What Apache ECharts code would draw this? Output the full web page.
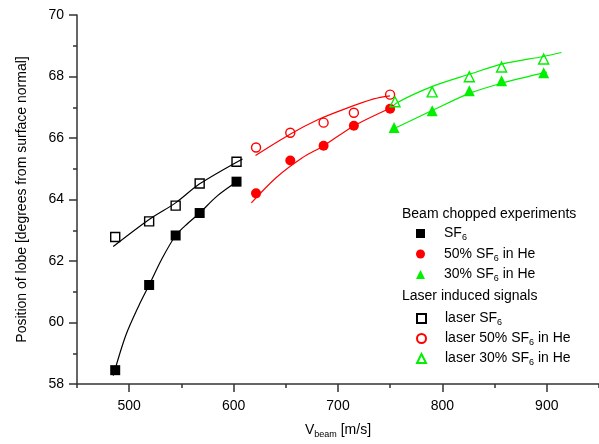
<!DOCTYPE html>
<html><head><meta charset="utf-8">
<script src="https://cdn.jsdelivr.net/npm/echarts@6/dist/echarts.min.js"></script>
<style>html,body{margin:0;padding:0;background:#fff}#c{width:599px;height:444px}</style>
</head><body><div id="c"></div>
<script>
// Measured points [Vbeam m/s, position deg]
const sf6 = [[486.6,58.45],[519.1,61.22],[544.5,62.83],[567.5,63.56],[602.8,64.58]];
const he50 = [[621.5,64.20],[654.3,65.27],[686.2,65.75],[715.2,66.40],[749.9,66.95]];
const he30 = [[753.7,66.34],[790.2,66.89],[825.8,67.54],[856.7,67.86],[897.0,68.12]];
const laserSf6 = [[486.6,62.78],[519.1,63.29],[544.5,63.80],[567.5,64.52],[602.8,65.23]];
const laser50 = [[621.5,65.69],[654.3,66.17],[686.2,66.50],[715.2,66.82],[749.9,67.41]];
const laser30 = [[754.6,67.18],[790.2,67.50],[825.8,67.99],[856.7,68.31],[897.0,68.57]];
// Fit curves
const fitSf6 = [[484.7,58.27],[496.6,59.57],[509.1,60.54],[519.1,61.22],[531.0,62.05],[544.5,62.83],[556.0,63.22],[567.5,63.56],[584.1,64.11],[606.0,64.65]];
const fitLaserSf6 = [[484.7,62.47],[519.1,63.35],[544.5,63.89],[567.5,64.51],[608.5,65.32]];
const fit50 = [[617.0,63.89],[640.4,64.70],[665.5,65.35],[686.4,65.75],[715.5,66.40],[749.9,66.97]];
const fitLaser50 = [[621.0,65.43],[654.5,66.13],[681.1,66.60],[706.1,66.94],[734.2,67.27],[749.9,67.37]];
const fit30 = [[751.4,66.27],[790.5,66.90],[826.5,67.46],[857.8,67.79],[900.0,68.14]];
const fitLaser30 = [[749.9,66.92],[756.1,67.14],[790.5,67.68],[826.5,68.08],[857.8,68.41],[896.8,68.65],[914.1,68.78]];
const xMajor = [500,600,700,800,900];
const yMajor = [58,60,62,64,66,68,70];
const names = ['SF6','50% SF6 in He','30% SF6 in He','laser SF6','laser 50% SF6 in He','laser 30% SF6 in He'];
const headers = ['Beam chopped experiments','Laser induced signals'];

const BLACK='#000', RED='#ff0000', GREEN='#00f000';
const FONT='"Liberation Sans", Arial, sans-serif';
const chart = echarts.init(document.getElementById('c'), null, {renderer:'canvas'});

function fmt(name){
  return '{p|}' + name.split('SF6').map(p => p ? '{n|'+p+'}' : '').join('{n|SF}{s|6}');
}
const rich = {p:{width:14,lineHeight:18},
              n:{fontSize:14,fontFamily:FONT,color:'#000',lineHeight:18},
              s:{fontSize:9,fontFamily:FONT,color:'#000',lineHeight:18,verticalAlign:'bottom'}};

function scatter(name,data,symbol,color,open,size){
  return {type:'scatter',name:name,data:data,symbol:symbol,symbolSize:size,z:5,
    itemStyle: open ? {color:'rgba(0,0,0,0)',borderColor:color,borderWidth:1.4,opacity:1}
                    : {color:color,borderWidth:0,opacity:1}};
}
function fit(data,color){
  return {type:'line',data:data,smooth:0.3,showSymbol:false,symbol:'none',z:3,silent:true,
    lineStyle:{color:color,width:1.2},emphasis:{disabled:true}};
}
const tickLine = {color:'#333',width:1.5};
const legendBase = {orient:'vertical',left:416,padding:0,itemWidth:9,itemHeight:9,
  formatter:fmt,textStyle:{rich:rich},selectedMode:false};
const option = {
  backgroundColor:'#fff',
  animation:false,
  grid:{left:77,top:15,bottom:59,right:-11,containLabel:false},
  xAxis:[{type:'value',min:450,max:950,interval:50,
    axisLine:{show:true,lineStyle:tickLine},
    axisTick:{show:true,length:4,lineStyle:tickLine},
    axisLabel:{customValues:xMajor,margin:15,fontSize:14,fontFamily:FONT,color:'#000'},
    splitLine:{show:false},
    name:'{n|V}{s|beam}{n| [m/s]}',nameLocation:'middle',nameGap:37,
    nameTextStyle:{rich:rich}},
   {type:'value',min:450,max:950,position:'bottom',gridIndex:0,
    axisLine:{show:false},axisLabel:{show:false},splitLine:{show:false},
    axisTick:{show:true,length:8,customValues:xMajor,lineStyle:tickLine}}],
  yAxis:[{type:'value',min:58,max:70,interval:1,
    axisLine:{show:true,lineStyle:tickLine},
    axisTick:{show:true,length:4,lineStyle:tickLine},
    axisLabel:{customValues:yMajor,margin:13,fontSize:14,fontFamily:FONT,color:'#000'},
    splitLine:{show:false},
    name:'Position of lobe [degrees from surface normal]',nameLocation:'middle',nameGap:48,
    nameTextStyle:{fontSize:14,fontFamily:FONT,color:'#000'}},
   {type:'value',min:58,max:70,position:'left',
    axisLine:{show:false},axisLabel:{show:false},splitLine:{show:false},
    axisTick:{show:true,length:8,customValues:yMajor,lineStyle:tickLine}}],
  legend:[
    Object.assign({data:names.slice(0,3),top:226.5,itemGap:4.5},legendBase),
    Object.assign({data:names.slice(3),top:311.5,itemGap:4},legendBase)],
  graphic:[
    {type:'text',left:402,top:207,style:{text:headers[0],font:'14px '+FONT,fill:'#000'}},
    {type:'text',left:402,top:289,style:{text:headers[1],font:'14px '+FONT,fill:'#000'}}],
  series:[
    fit(fitSf6,BLACK),fit(fitLaserSf6,BLACK),fit(fit50,RED),fit(fitLaser50,RED),fit(fit30,GREEN),fit(fitLaser30,GREEN),
    scatter(names[0],sf6,'rect',BLACK,false,10),
    scatter(names[1],he50,'circle',RED,false,10),
    scatter(names[2],he30,'triangle',GREEN,false,11),
    scatter(names[3],laserSf6,'rect',BLACK,true,9),
    scatter(names[4],laser50,'circle',RED,true,9),
    scatter(names[5],laser30,'triangle',GREEN,true,10)
  ]
};
chart.setOption(option);
</script></body></html>
